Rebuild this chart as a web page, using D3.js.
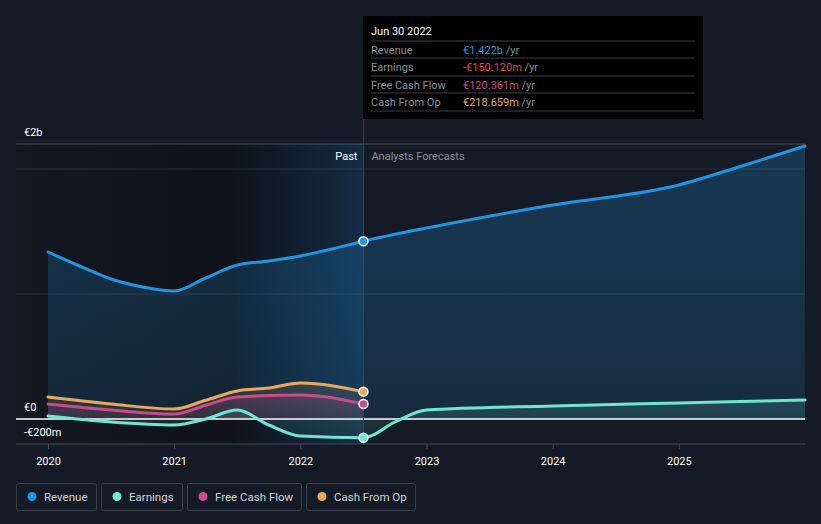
<!DOCTYPE html>
<html>
<head>
<meta charset="utf-8">
<script src="https://cdn.jsdelivr.net/npm/d3@7"></script>
<style>
  body { margin: 0; background: #151b26; }
  svg { display: block; font-family: Roboto, "Noto Sans", sans-serif; }
</style>
</head>
<body>
<div id="container"></div>
<script>
const width = 821;
const height = 524;

// data (decimal years, values in € billions)
const revenueDates = [2020, 2020.25, 2020.5, 2020.75, 2021, 2021.25, 2021.5, 2021.75, 2022, 2022.25, 2022.5, 2023, 2024, 2025, 2025.5, 2026];
const revenueValues = [1.336, 1.224, 1.12, 1.056, 1.024, 1.128, 1.232, 1.264, 1.304, 1.36, 1.422, 1.528, 1.712, 1.872, 2.024, 2.184];
const earningsDates = [2020, 2020.5, 2021, 2021.25, 2021.5, 2021.75, 2022, 2022.5, 2022.75, 2023, 2024, 2025, 2026];
const earningsValues = [0.024, -0.024, -0.048, 0.0, 0.072, -0.048, -0.136, -0.150, -0.024, 0.072, 0.104, 0.128, 0.152];
const fcfDates = [2020, 2020.5, 2021, 2021.25, 2021.5, 2022, 2022.5];
const fcfValues = [0.12, 0.072, 0.04, 0.11, 0.176, 0.192, 0.120];
const cfoDates = [2020, 2020.5, 2021, 2021.25, 2021.5, 2021.75, 2022, 2022.5];
const cfoValues = [0.176, 0.12, 0.08, 0.15, 0.224, 0.248, 0.288, 0.219];
const yearTicks = [2020, 2021, 2022, 2023, 2024, 2025];
const yTicks = [{ v: 2.2, label: "€2b" }, { v: 0, label: "€0" }, { v: -0.2, label: "-€200m" }];
const gridValues = [1, 2];
const pastEnd = 2022.5;
const pastStart = 2021.5;

const tipRows = [
  { name: "Revenue", value: "€1.422b", color: "#2394df" },
  { name: "Earnings", value: "-€150.120m", color: "#e8403f" },
  { name: "Free Cash Flow", value: "€120.361m", color: "#c84b8c" },
  { name: "Cash From Op", value: "€218.659m", color: "#e8aa5a" }
];
const legendItems = [
  { name: "Revenue", color: "#2394df" },
  { name: "Earnings", color: "#6ee6d0" },
  { name: "Free Cash Flow", color: "#c84b8c" },
  { name: "Cash From Op", color: "#e8aa5a" }
];

const x = d3.scaleLinear().domain([2020, 2026]).range([48, 805]);
const y = d3.scaleLinear().domain([-0.2, 2.2]).range([444, 144]);
const plotLeft = 16, plotRight = 805, plotTop = 144, plotBottom = 444;

const svg = d3.select("#container").append("svg")
  .attr("width", width).attr("height", height)
  .attr("viewBox", [0, 0, width, height]);

const defs = svg.append("defs");
const lg = (id, x1, y1, x2, y2, stops) => {
  const g = defs.append("linearGradient").attr("id", id)
    .attr("x1", x1).attr("y1", y1).attr("x2", x2).attr("y2", y2);
  stops.forEach(s => g.append("stop").attr("offset", s[0]).attr("stop-color", s[1]).attr("stop-opacity", s[2]));
};
lg("leftBg", 0, 0, 1, 0, [[0, "#131821", 1], [1, "#0f1218", 1]]);
lg("pastBg", 0, 0, 1, 0, [[0, "#0f141c", 1], [1, "#132c44", 1]]);
lg("revFill", 0, 0, 0, 1, [[0, "#2394df", 0.24], [1, "#2394df", 0.14]]);
lg("earnFill", 0, 0, 0, 1, [[0, "#6ee6d0", 0.14], [1, "#6ee6d0", 0.08]]);
lg("fcfFill", 0, 0, 0, 1, [[0, "#c84b8c", 0.22], [1, "#c84b8c", 0.1]]);
lg("cfoFill", 0, 0, 0, 1, [[0, "#e8aa5a", 0.14], [1, "#e8aa5a", 0.06]]);

// background bands
svg.append("rect").attr("x", plotLeft).attr("y", plotTop).attr("width", x(pastStart) - plotLeft).attr("height", plotBottom - plotTop)
  .attr("fill", "url(#leftBg)");
svg.append("rect").attr("x", x(pastStart)).attr("y", plotTop).attr("width", x(pastEnd) - x(pastStart)).attr("height", plotBottom - plotTop)
  .attr("fill", "url(#pastBg)");

// grid
svg.selectAll(".grid").data(gridValues).join("line")
  .attr("x1", plotLeft).attr("x2", plotRight).attr("y1", d => y(d)).attr("y2", d => y(d))
  .attr("stroke", "#ffffff").attr("stroke-opacity", 0.1);
svg.append("line").attr("x1", plotLeft).attr("x2", plotRight).attr("y1", plotTop).attr("y2", plotTop)
  .attr("stroke", "#ffffff").attr("stroke-opacity", 0.22);

const zip = (d, v) => d.map((t, i) => [t, v[i]]);
const curve = d3.curveMonotoneX;
const line = d3.line().x(d => x(d[0])).y(d => y(d[1])).curve(curve);
const area = d3.area().x(d => x(d[0])).y0(y(0)).y1(d => y(d[1])).curve(curve);

const series = [
  { data: zip(revenueDates, revenueValues), color: "#2394df", fill: "url(#revFill)" },
  { data: zip(cfoDates, cfoValues), color: "#e8aa5a", fill: "url(#cfoFill)" },
  { data: zip(fcfDates, fcfValues), color: "#c84b8c", fill: "url(#fcfFill)" },
  { data: zip(earningsDates, earningsValues), color: "#6ee6d0", fill: "url(#earnFill)" }
];

series.forEach(s => {
  svg.append("path").datum(s.data).attr("d", area).attr("fill", s.fill);
});

// zero line
svg.append("line").attr("x1", plotLeft).attr("x2", plotRight).attr("y1", y(0)).attr("y2", y(0))
  .attr("stroke", "#ffffff").attr("stroke-width", 1.5);

series.forEach(s => {
  svg.append("path").datum(s.data).attr("d", line)
    .attr("fill", "none").attr("stroke", s.color).attr("stroke-width", 3).attr("stroke-linecap", "round");
});

// past/forecast divider
svg.append("line").attr("x1", x(pastEnd)).attr("x2", x(pastEnd)).attr("y1", 118).attr("y2", plotBottom)
  .attr("stroke", "#2b4a66").attr("stroke-width", 1);

svg.append("text").attr("x", x(pastEnd) - 6).attr("y", 160).attr("text-anchor", "end")
  .attr("fill", "#ffffff").attr("font-size", 11).text("Past");
svg.append("text").attr("x", x(pastEnd) + 8).attr("y", 160)
  .attr("fill", "#8a8f98").attr("font-size", 11).text("Analysts Forecasts");

// dots at Jun 30 2022
series.forEach(s => {
  const p = s.data.find(d => d[0] === pastEnd);
  svg.append("circle").attr("cx", x(p[0])).attr("cy", y(p[1])).attr("r", 4.5)
    .attr("fill", s.color).attr("stroke", "#ffffff").attr("stroke-width", 1.5);
});

// y labels
svg.selectAll(".ylab").data(yTicks).join("text")
  .attr("x", 24).attr("y", d => y(d.v) - 8)
  .attr("fill", "#ffffff").attr("font-size", 11).text(d => d.label);

// x axis
svg.append("line").attr("x1", plotLeft).attr("x2", plotRight).attr("y1", plotBottom).attr("y2", plotBottom)
  .attr("stroke", "#454b55").attr("stroke-width", 1);
const xAxis = svg.append("g").attr("transform", `translate(0,${plotBottom})`)
  .call(d3.axisBottom(x).tickValues(yearTicks).tickFormat(d3.format("d")).tickSize(5).tickPadding(8));
xAxis.select(".domain").remove();
xAxis.selectAll("line").attr("stroke", "#454b55");
xAxis.selectAll("text").attr("fill", "#ffffff").attr("font-size", 11).attr("font-family", "Roboto, sans-serif");

// tooltip
const tip = svg.append("g").attr("transform", "translate(363,16)");
tip.append("rect").attr("width", 340).attr("height", 103).attr("fill", "#000000");
tip.append("text").attr("x", 8).attr("y", 19).attr("fill", "#ffffff").attr("font-size", 11).text("Jun 30 2022");
const rowY = [25, 42, 60, 77, 95];
rowY.forEach(v => tip.append("line").attr("x1", 8).attr("x2", 332).attr("y1", v).attr("y2", v)
  .attr("stroke", "#3a3e45").attr("stroke-width", 1));
tipRows.forEach((r, i) => {
  const ty = rowY[i] + 12.5;
  tip.append("text").attr("x", 8).attr("y", ty).attr("fill", "#8a8f98").attr("font-size", 11).text(r.name);
  const t = tip.append("text").attr("x", 100).attr("y", ty).attr("font-size", 11);
  t.append("tspan").attr("fill", r.color).text(r.value);
  t.append("tspan").attr("fill", "#8a8f98").text(" /yr");
});

// legend
const legend = svg.append("g").attr("transform", "translate(16,483)");
let lx = 0;
legendItems.forEach(item => {
  const g = legend.append("g").attr("transform", `translate(${lx},0)`);
  const txt = g.append("text").attr("x", 28).attr("y", 18).attr("fill", "#d0d3d8").attr("font-size", 11.5).text(item.name);
  const w = Math.round(txt.node().getComputedTextLength() + 36);
  g.insert("rect", "text").attr("x", 0.5).attr("y", 0.5).attr("width", w).attr("height", 27).attr("rx", 2)
    .attr("fill", "none").attr("stroke", "#3a404a");
  g.append("circle").attr("cx", 16).attr("cy", 13.5).attr("r", 4.5).attr("fill", item.color);
  lx += w + 5;
});
</script>
</body>
</html>
